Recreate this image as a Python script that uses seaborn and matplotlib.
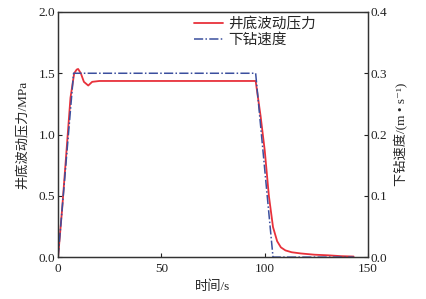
import matplotlib
matplotlib.use("Agg")
import matplotlib.pyplot as plt
import seaborn as sns
import pandas as pd

sns.set_style("ticks")
plt.rcParams['font.family'] = ['Liberation Serif', 'Noto Sans CJK SC', 'DejaVu Serif']
plt.rcParams['axes.unicode_minus'] = False

# Data
p_time = [0, 2, 4, 6, 7.8, 9, 9.7, 11, 12.5, 14.6, 16.5, 20, 50, 95.6, 98, 100, 102, 104, 106, 107.8, 110, 113, 117.5, 124, 130.6, 137, 143]
p_vals = [0, 0.4, 0.85, 1.3, 1.5, 1.53, 1.535, 1.5, 1.43, 1.40, 1.43, 1.437, 1.437, 1.437, 1.15, 0.87, 0.5, 0.245, 0.13, 0.08, 0.055, 0.04, 0.03, 0.02, 0.015, 0.008, 0.005]
v_time = [0, 7.5, 50, 95.6, 104, 120, 143]
v_vals = [0, 0.3, 0.3, 0.3, 0, 0, 0]

xticks = [0, 50, 100, 150]
yticks_left = [0.0, 0.5, 1.0, 1.5, 2.0]
yticks_right = [0.0, 0.1, 0.2, 0.3, 0.4]

red = '#e8313b'
blue = '#3b4f9e'

fig = plt.figure(figsize=(4.27, 2.99), dpi=100)
ax = fig.add_axes([0.136, 0.140, 0.726, 0.820])
ax2 = ax.twinx()

dfp = pd.DataFrame({'t': p_time, 'p': p_vals})
dfv = pd.DataFrame({'t': v_time, 'v': v_vals})

sns.lineplot(data=dfp, x='t', y='p', ax=ax, color=red, lw=1.3, label='井底波动压力', legend=False)
sns.lineplot(data=dfv, x='t', y='v', ax=ax2, color=blue, lw=1.1, linestyle=(0, (6, 1.5, 1, 1.5)), label='下钻速度', legend=False)

ax.set_xlim(0, 150)
ax.set_ylim(0, 2.0)
ax2.set_ylim(0, 0.4)
ax.set_xticks(xticks)
ax.set_yticks(yticks_left)
ax2.set_yticks(yticks_right)
ax.set_xticklabels([str(x) for x in xticks])
ax.set_yticklabels([f"{y:.1f}" for y in yticks_left])
ax2.set_yticklabels([f"{y:.1f}" for y in yticks_right])

fs = 9.5
for a in (ax, ax2):
    a.tick_params(direction='in', length=3, width=0.8, labelsize=fs, colors='#222222', pad=2)
    for s in a.spines.values():
        s.set_visible(True)
        s.set_linewidth(0.9)
        s.set_color('#333333')
ax.tick_params(axis='x', pad=4)

ax.set_xlabel('时间/s', fontsize=fs, labelpad=4)
ax.set_ylabel('井底波动压力/MPa', fontsize=fs, labelpad=7)
ax2.set_ylabel('下钻速度/(m • s⁻¹)', fontsize=fs, labelpad=5)

h1, l1 = ax.get_legend_handles_labels()
h2, l2 = ax2.get_legend_handles_labels()
ax.legend(h1 + h2, l1 + l2, loc='upper left', bbox_to_anchor=(0.43, 0.99), frameon=False,
          fontsize=10.5, handlelength=2.0, handletextpad=0.3, labelspacing=0.1,
          borderaxespad=0, borderpad=0.2)

fig.savefig('out.png', dpi=100)
